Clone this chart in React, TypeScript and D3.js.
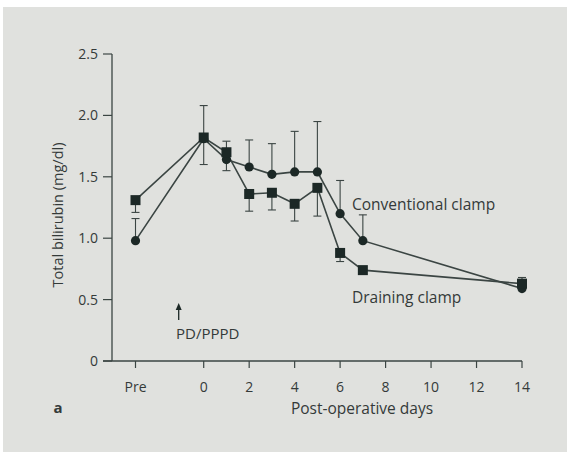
import React from "react";
import * as d3 from "d3";

const days = [-3, 0, 1, 2, 3, 4, 5, 6, 7, 14];
const xTickValues = [-3, 0, 2, 4, 6, 8, 10, 12, 14];
const xTickLabels = ["Pre", "0", "2", "4", "6", "8", "10", "12", "14"];
const yTickValues = [0, 0.5, 1.0, 1.5, 2.0, 2.5];
const yTickLabels = ["0", "0.5", "1.0", "1.5", "2.0", "2.5"];

const conventional = [0.98, 1.81, 1.64, 1.58, 1.52, 1.54, 1.54, 1.2, 0.98, 0.59];
const conventionalUpper = [1.16, 2.08, 1.79, 1.8, 1.77, 1.87, 1.95, 1.47, 1.19, null];

const draining = [1.31, 1.82, 1.7, 1.36, 1.37, 1.28, 1.41, 0.88, 0.74, 0.63];
const drainingLower = [1.21, 1.6, 1.55, 1.22, 1.23, 1.14, 1.18, 0.81, null, null];
const drainingUpper = [null, null, null, null, null, null, null, null, null, 0.68];

export default function App() {
  const W = 567, H = 452;
  const x = d3.scaleLinear().domain([-3, 14]).range([135.5, 522]);
  const y = d3.scaleLinear().domain([0, 2.5]).range([361, 54]);
  const line = d3.line<number>().x((_, i) => x(days[i])).y((v) => y(v));
  const ink = "#1c2826";
  const lineCol = "#3b4543";
  const textCol = "#343a39";
  const font = "'Open Sans', sans-serif";
  const cap = 4;

  const bars: { d: number; a: number; b: number }[] = [];
  days.forEach((d, i) => {
    const cu = conventionalUpper[i];
    if (cu != null) bars.push({ d, a: conventional[i], b: cu });
    const dl = drainingLower[i];
    if (dl != null) bars.push({ d, a: draining[i], b: dl });
    const du = drainingUpper[i];
    if (du != null) bars.push({ d, a: draining[i], b: du });
  });

  return (
    <svg width={W} height={H} style={{ position: "absolute", left: 0, top: 0 }}>
      <rect x={0} y={0} width={W} height={H} fill="#ffffff" />
      <rect x={3} y={7} width={W - 3} height={H - 7} fill="#e0e1de" />
      {/* axes */}
      <line x1={112} x2={112} y1={y(2.5)} y2={y(0)} stroke={lineCol} strokeWidth={1.3} />
      <line x1={103} x2={x(14)} y1={y(0)} y2={y(0)} stroke={lineCol} strokeWidth={1.3} />
      {yTickValues.map((v, i) => (
        <g key={"yt" + i}>
          <line x1={103} x2={112} y1={y(v)} y2={y(v)} stroke={lineCol} strokeWidth={1.2} />
          <text x={98} y={y(v) + 5} textAnchor="end" fontSize={14} fontFamily={font} fill={textCol}>
            {yTickLabels[i]}
          </text>
        </g>
      ))}
      {xTickValues.map((v, i) => (
        <g key={"xt" + i}>
          <line x1={x(v)} x2={x(v)} y1={y(0)} y2={y(0) + 7} stroke={lineCol} strokeWidth={1.2} />
          <text x={x(v)} y={392} textAnchor="middle" fontSize={14} fontFamily={font} fill={textCol}>
            {xTickLabels[i]}
          </text>
        </g>
      ))}
      <text x={362} y={414} textAnchor="middle" fontSize={15.5} fontFamily={font} fill={textCol}>
        Post-operative days
      </text>
      <text x={58} y={413} textAnchor="middle" fontSize={15} fontWeight="bold" fontFamily={font} fill={textCol}>
        a
      </text>
      <text
        transform={`translate(63,215) rotate(-90)`}
        textAnchor="middle"
        fontSize={14.5}
        fontFamily={font}
        fill={textCol}
      >
        Total bilirubin (mg/dl)
      </text>
      {/* error bars */}
      {bars.map((b, i) => (
        <g key={"eb" + i} stroke={lineCol} strokeWidth={1.1}>
          <line x1={x(b.d)} x2={x(b.d)} y1={y(b.a)} y2={y(b.b)} />
          <line x1={x(b.d) - cap} x2={x(b.d) + cap} y1={y(b.b)} y2={y(b.b)} />
        </g>
      ))}
      {/* lines */}
      <path d={line(conventional) || ""} fill="none" stroke={lineCol} strokeWidth={1.6} />
      <path d={line(draining) || ""} fill="none" stroke={lineCol} strokeWidth={1.6} />
      {/* markers */}
      {conventional.map((v, i) => (
        <circle key={"c" + i} cx={x(days[i])} cy={y(v)} r={4.6} fill={ink} />
      ))}
      {draining.map((v, i) => (
        <rect key={"s" + i} x={x(days[i]) - 5} y={y(v) - 5} width={10} height={10} fill={ink} />
      ))}
      {/* annotations */}
      <text x={352} y={210} fontSize={15.5} fontFamily={font} fill={textCol}>
        Conventional clamp
      </text>
      <text x={352} y={303} fontSize={15.5} fontFamily={font} fill={textCol}>
        Draining clamp
      </text>
      <line x1={x(-1.1)} x2={x(-1.1)} y1={308} y2={320} stroke={ink} strokeWidth={1.3} />
      <path d={`M${x(-1.1) - 3},${310} L${x(-1.1)},${303} L${x(-1.1) + 3},${310} Z`} fill={ink} />
      <text x={176} y={339} fontSize={15} fontFamily={font} fill={textCol}>
        PD/PPPD
      </text>
    </svg>
  );
}
